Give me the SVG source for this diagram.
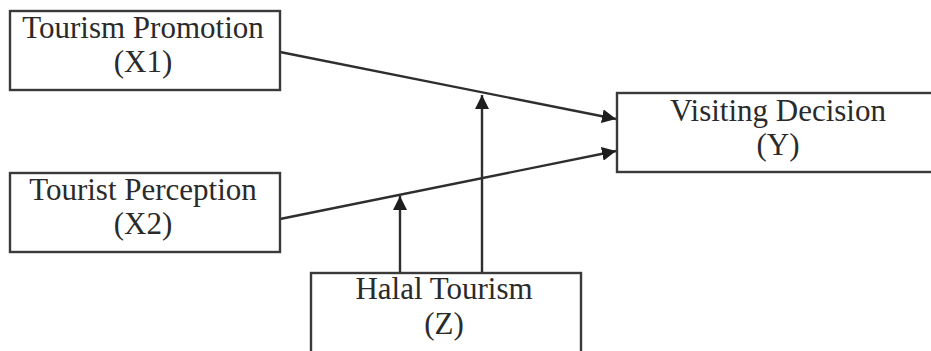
<svg xmlns="http://www.w3.org/2000/svg" width="931" height="351" viewBox="0 0 931 351">
  <style>
    .box { fill: #fff; stroke: #3a3a3a; stroke-width: 2.4; }
    .lbl { font-family: "Liberation Serif", "Times New Roman", serif; font-size: 31px; fill: #2a2a2a; text-anchor: middle; }
    .edge { stroke: #2e2e2e; stroke-width: 2.4; fill: none; marker-end: url(#head); }
  </style>
  <defs>
    <marker id="head" viewBox="0 0 14 14" refX="14" refY="7" markerWidth="14" markerHeight="14" markerUnits="userSpaceOnUse" orient="auto">
      <path d="M0,0 L14,7 L0,14 Z" fill="#1e1e1e"/>
    </marker>
  </defs>
  <rect width="931" height="351" fill="#fff"/>

  <g id="connectors">
    <line class="edge" x1="280" y1="52" x2="616" y2="119"/>
    <line class="edge" x1="280" y1="219" x2="616" y2="151"/>
    <line class="edge" x1="482" y1="273" x2="482" y2="95"/>
    <line class="edge" x1="400" y1="273" x2="400" y2="196"/>
  </g>

  <g id="node-x1">
    <rect class="box" x="10" y="11" width="270" height="79"/>
    <text class="lbl" x="143" y="38">Tourism Promotion</text>
    <text class="lbl" x="143" y="72">(X1)</text>
  </g>

  <g id="node-x2">
    <rect class="box" x="10" y="173" width="270" height="79"/>
    <text class="lbl" x="143" y="200">Tourist Perception</text>
    <text class="lbl" x="143" y="234">(X2)</text>
  </g>

  <g id="node-y">
    <rect class="box" x="617" y="93" width="330" height="79"/>
    <text class="lbl" x="778" y="121">Visiting Decision</text>
    <text class="lbl" x="778" y="155">(Y)</text>
  </g>

  <g id="node-z">
    <rect class="box" x="311" y="273" width="270" height="90"/>
    <text class="lbl" x="444" y="299">Halal Tourism</text>
    <text class="lbl" x="444" y="334">(Z)</text>
  </g>
</svg>
